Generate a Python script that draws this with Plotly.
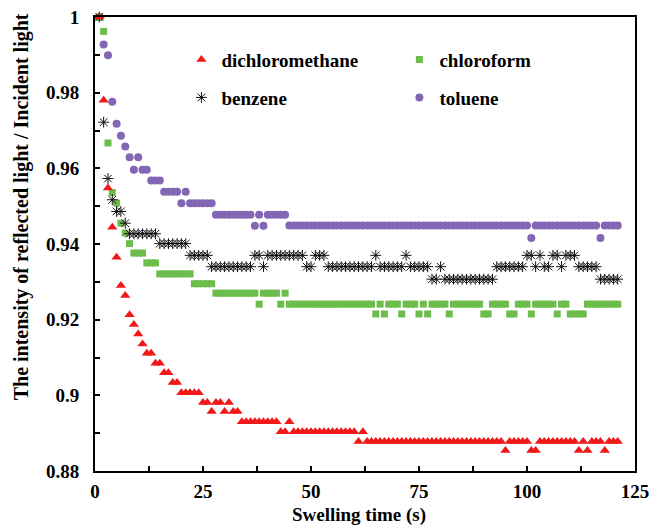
import plotly.graph_objects as go

# ---------------- data ----------------
time_s = list(range(1, 122))  # swelling time, one reading per second

dichloromethane = [
    1.0, 0.978, 0.9548, 0.9444, 0.9365, 0.9290, 0.9264, 0.9213, 0.9187, 0.9162,
    0.9136, 0.9111, 0.9111, 0.9085, 0.9085, 0.9060, 0.9060, 0.9034, 0.9034, 0.9007,
    0.9007, 0.9007, 0.9007, 0.9007, 0.8981, 0.8981, 0.8957, 0.8981, 0.8981, 0.8957,
    0.8981, 0.8957, 0.8957, 0.8930, 0.8930, 0.8930, 0.8930, 0.8930, 0.8930, 0.8930,
    0.8930, 0.8930, 0.8904, 0.8904, 0.8930, 0.8904, 0.8904, 0.8904, 0.8904, 0.8904,
    0.8904, 0.8904, 0.8904, 0.8904, 0.8904, 0.8904, 0.8904, 0.8904, 0.8904, 0.8904,
    0.8878, 0.8904, 0.8878, 0.8878, 0.8878, 0.8878, 0.8878, 0.8878, 0.8878, 0.8878,
    0.8878, 0.8878, 0.8878, 0.8878, 0.8878, 0.8878, 0.8878, 0.8878, 0.8878, 0.8878,
    0.8878, 0.8878, 0.8878, 0.8878, 0.8878, 0.8878, 0.8878, 0.8878, 0.8878, 0.8878,
    0.8878, 0.8878, 0.8878, 0.8878, 0.8854, 0.8878, 0.8878, 0.8878, 0.8878, 0.8878,
    0.8854, 0.8854, 0.8878, 0.8878, 0.8878, 0.8878, 0.8878, 0.8878, 0.8878, 0.8878,
    0.8878, 0.8854, 0.8878, 0.8854, 0.8878, 0.8878, 0.8878, 0.8854, 0.8878, 0.8878,
    0.8878,
]

chloroform = [
    1.0, 0.9962, 0.9667, 0.9536, 0.9508, 0.9455, 0.9429, 0.9401, 0.9376, 0.9376,
    0.9376, 0.9350, 0.9350, 0.9350, 0.9321, 0.9321, 0.9321, 0.9321, 0.9321, 0.9321,
    0.9321, 0.9321, 0.9295, 0.9295, 0.9295, 0.9295, 0.9295, 0.9270, 0.9270, 0.9270,
    0.9270, 0.9270, 0.9270, 0.9270, 0.9270, 0.9270, 0.9270, 0.9241, 0.9270, 0.9270,
    0.9270, 0.9270, 0.9241, 0.9270, 0.9241, 0.9241, 0.9241, 0.9241, 0.9241, 0.9241,
    0.9241, 0.9241, 0.9241, 0.9241, 0.9241, 0.9241, 0.9241, 0.9241, 0.9241, 0.9241,
    0.9241, 0.9241, 0.9241, 0.9241, 0.9215, 0.9241, 0.9215, 0.9241, 0.9241, 0.9241,
    0.9215, 0.9241, 0.9241, 0.9241, 0.9215, 0.9241, 0.9215, 0.9241, 0.9241, 0.9241,
    0.9241, 0.9215, 0.9241, 0.9241, 0.9241, 0.9241, 0.9241, 0.9241, 0.9241, 0.9215,
    0.9215, 0.9241, 0.9241, 0.9241, 0.9241, 0.9215, 0.9215, 0.9241, 0.9241, 0.9241,
    0.9215, 0.9241, 0.9241, 0.9241, 0.9241, 0.9241, 0.9215, 0.9241, 0.9241, 0.9215,
    0.9215, 0.9215, 0.9215, 0.9241, 0.9241, 0.9241, 0.9241, 0.9241, 0.9241, 0.9241,
    0.9241,
]

benzene = [
    1.0, 0.9722, 0.9573, 0.9517, 0.9486, 0.9486, 0.9455, 0.9427, 0.9427, 0.9427,
    0.9427, 0.9427, 0.9427, 0.9427, 0.9401, 0.9401, 0.9401, 0.9401, 0.9401, 0.9401,
    0.9401, 0.9370, 0.9370, 0.9370, 0.9370, 0.9370, 0.9340, 0.9340, 0.9340, 0.9340,
    0.9340, 0.9340, 0.9340, 0.9340, 0.9340, 0.9340, 0.9370, 0.9370, 0.9340, 0.9370,
    0.9370, 0.9370, 0.9370, 0.9370, 0.9370, 0.9370, 0.9370, 0.9370, 0.9340, 0.9340,
    0.9370, 0.9370, 0.9370, 0.9340, 0.9340, 0.9340, 0.9340, 0.9340, 0.9340, 0.9340,
    0.9340, 0.9340, 0.9340, 0.9340, 0.9370, 0.9340, 0.9340, 0.9340, 0.9340, 0.9340,
    0.9340, 0.9370, 0.9340, 0.9340, 0.9340, 0.9340, 0.9340, 0.9307, 0.9307, 0.9340,
    0.9307, 0.9307, 0.9307, 0.9307, 0.9307, 0.9307, 0.9307, 0.9307, 0.9307, 0.9307,
    0.9307, 0.9307, 0.9340, 0.9340, 0.9340, 0.9340, 0.9340, 0.9340, 0.9340, 0.9370,
    0.9370, 0.9340, 0.9370, 0.9340, 0.9340, 0.9370, 0.9370, 0.9340, 0.9370, 0.9370,
    0.9370, 0.9340, 0.9340, 0.9340, 0.9340, 0.9340, 0.9307, 0.9307, 0.9307, 0.9307,
    0.9307,
]

toluene = [
    1.0, 0.9927, 0.9899, 0.9776, 0.9718, 0.9686, 0.9658, 0.9629, 0.9596, 0.9629,
    0.9596, 0.9596, 0.9568, 0.9568, 0.9568, 0.9538, 0.9538, 0.9538, 0.9538, 0.9508,
    0.9538, 0.9508, 0.9508, 0.9508, 0.9508, 0.9508, 0.9508, 0.9477, 0.9477, 0.9477,
    0.9477, 0.9477, 0.9477, 0.9477, 0.9477, 0.9477, 0.9448, 0.9477, 0.9448, 0.9477,
    0.9477, 0.9477, 0.9477, 0.9477, 0.9449, 0.9449, 0.9449, 0.9449, 0.9449, 0.9449,
    0.9449, 0.9449, 0.9449, 0.9449, 0.9449, 0.9449, 0.9449, 0.9449, 0.9449, 0.9449,
    0.9449, 0.9449, 0.9449, 0.9449, 0.9449, 0.9449, 0.9449, 0.9449, 0.9449, 0.9449,
    0.9449, 0.9449, 0.9449, 0.9449, 0.9449, 0.9449, 0.9449, 0.9449, 0.9449, 0.9449,
    0.9449, 0.9449, 0.9449, 0.9449, 0.9449, 0.9449, 0.9449, 0.9449, 0.9449, 0.9449,
    0.9449, 0.9449, 0.9449, 0.9449, 0.9449, 0.9449, 0.9449, 0.9449, 0.9449, 0.9449,
    0.9416, 0.9449, 0.9449, 0.9449, 0.9449, 0.9449, 0.9449, 0.9449, 0.9449, 0.9449,
    0.9449, 0.9449, 0.9449, 0.9449, 0.9449, 0.9449, 0.9416, 0.9449, 0.9449, 0.9449,
    0.9449,
]

x_title = "Swelling time (s)"
y_title = "The intensity of reflected light / Incident light"

# ---------------- styling ----------------
FONT = "Liberation Serif"
RED = "#f01818"
GREEN = "#6cbd4c"
PURPLE = "#8366b4"
BLACK = "#111111"

fig = go.Figure()

fig.add_trace(go.Scatter(
    x=time_s, y=toluene, mode="markers", name="toluene",
    marker=dict(symbol="circle", size=8, color=PURPLE),
    legend="legend2", legendrank=2, cliponaxis=False))

fig.add_trace(go.Scatter(
    x=time_s, y=chloroform, mode="markers", name="chloroform",
    marker=dict(symbol="square", size=7, color=GREEN),
    legend="legend", legendrank=2, cliponaxis=False))

fig.add_trace(go.Scatter(
    x=time_s, y=benzene, mode="markers", name="benzene",
    marker=dict(symbol="asterisk-open", size=9, color=BLACK,
                line=dict(color=BLACK, width=1.0)),
    legend="legend2", legendrank=1, cliponaxis=False))

fig.add_trace(go.Scatter(
    x=time_s, y=dichloromethane, mode="markers", name="dichloromethane",
    marker=dict(symbol="triangle-up", size=9, color=RED),
    legend="legend", legendrank=1, cliponaxis=False))

title_font = dict(family=FONT, size=19, color="black", weight="bold")
ytitle_font = dict(family=FONT, size=20, color="black", weight="bold")
tickfont = dict(family=FONT, size=19, color="black", weight="bold")
axis_common = dict(
    ticks="inside", ticklen=5, tickwidth=2, tickcolor="black",
    showline=True, linewidth=2, linecolor="black", mirror=True,
    showgrid=False, zeroline=False, tickfont=tickfont, automargin=False,
)

legend_common = dict(
    orientation="h", xanchor="left", yanchor="middle",
    entrywidth=173, entrywidthmode="pixels",
    font=dict(family=FONT, size=19, color="black", weight="bold"),
    bgcolor="rgba(0,0,0,0)", borderwidth=0,
)

fig.update_layout(
    width=651, height=525,
    margin=dict(l=95, r=16, t=17, b=54, autoexpand=False),
    paper_bgcolor="white", plot_bgcolor="white",
    font=dict(family=FONT, color="black"),
    xaxis=dict(
        range=[0, 125], tick0=0, dtick=25,
        minor=dict(dtick=12.5, ticks="inside", ticklen=5, tickwidth=2,
                   tickcolor="black", showgrid=False),
        ticklabelstandoff=2,
        **axis_common),
    yaxis=dict(
        range=[0.88, 1.0], tick0=0.88, dtick=0.02,
        minor=dict(dtick=0.01, ticks="inside", ticklen=5, tickwidth=2,
                   tickcolor="black", showgrid=False),
        ticklabelstandoff=10,
        **axis_common),
    legend=dict(x=0.16, y=0.906, **legend_common),
    legend2=dict(x=0.16, y=0.8225, **legend_common),
    showlegend=True,
    annotations=[
        dict(text=x_title, xref="paper", yref="paper", x=0.488, y=-0.096,
             xanchor="center", yanchor="middle", showarrow=False, font=title_font),
        dict(text=y_title, xref="paper", yref="paper", x=-0.136, y=0.582,
             xanchor="center", yanchor="middle", textangle=-90, showarrow=False,
             font=ytitle_font),
    ],
)

fig.write_html("out.html")
